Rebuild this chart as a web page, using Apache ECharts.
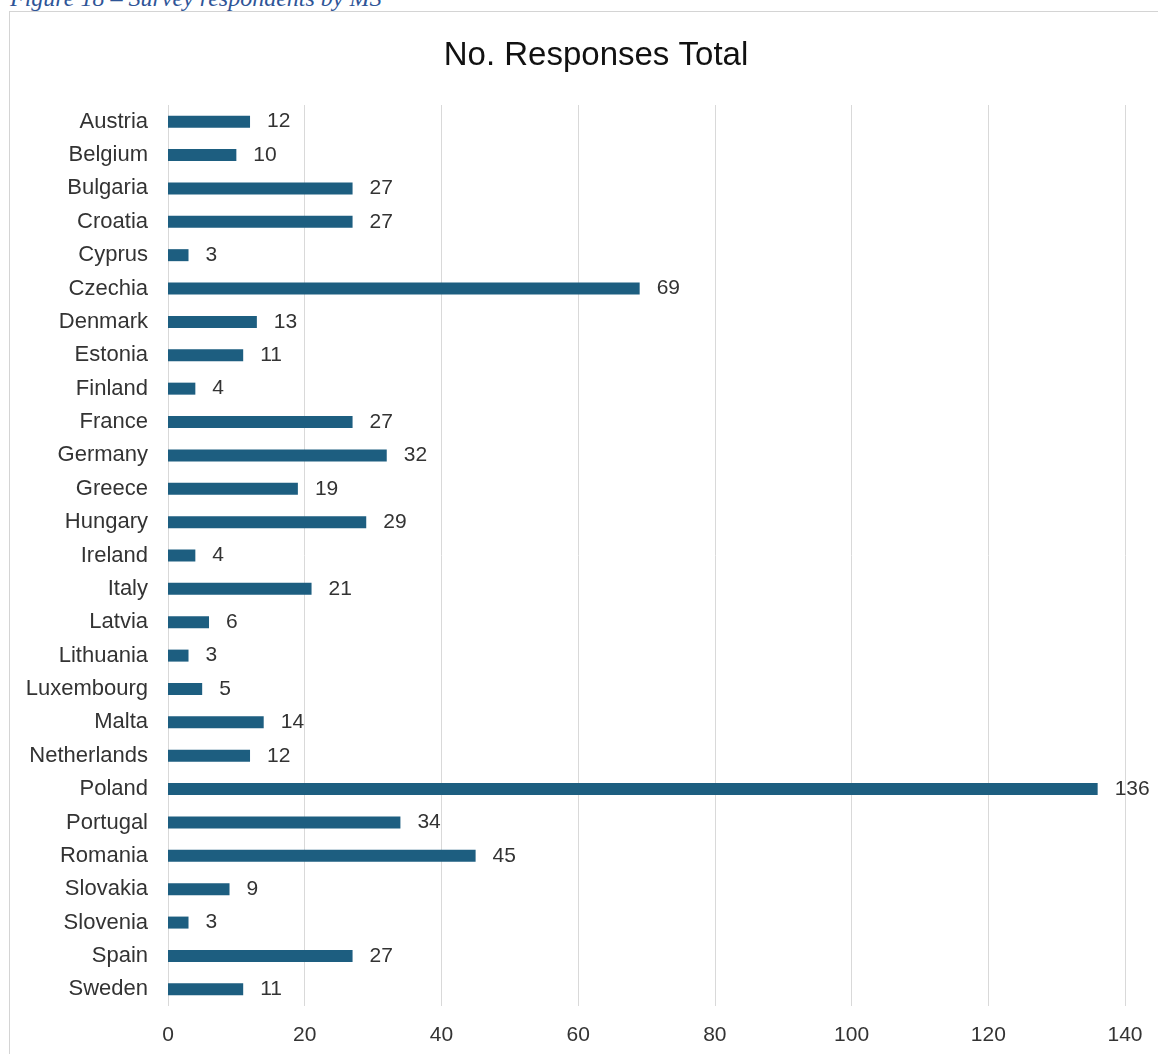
<!DOCTYPE html>
<html>
<head>
<meta charset="utf-8">
<script src="https://cdn.jsdelivr.net/npm/echarts@6/dist/echarts.min.js"></script>
<style>
  html, body { margin: 0; padding: 0; background: #ffffff; overflow: hidden; }
  #caption {
    position: absolute; left: 10px; top: -15px;
    font-family: "Liberation Serif", "DejaVu Serif", serif;
    font-style: italic; font-size: 24px; color: #2f5597; white-space: nowrap;
  }
  #frame {
    position: absolute; left: 9px; top: 11px; width: 1200px; height: 1100px;
    border: 1px solid #d4d4d4; box-sizing: border-box;
  }
  #chart { position: absolute; left: 0; top: 0; width: 1158px; height: 1054px; }
</style>
</head>
<body>
<div id="caption">Figure 18 – Survey respondents by MS</div>
<div id="frame"></div>
<div id="chart"></div>
<script>
const titleText = 'No. Responses Total';
const countries = ['Austria','Belgium','Bulgaria','Croatia','Cyprus','Czechia','Denmark','Estonia','Finland','France','Germany','Greece','Hungary','Ireland','Italy','Latvia','Lithuania','Luxembourg','Malta','Netherlands','Poland','Portugal','Romania','Slovakia','Slovenia','Spain','Sweden'];
const responses = [12,10,27,27,3,69,13,11,4,27,32,19,29,4,21,6,3,5,14,12,136,34,45,9,3,27,11];
const xMin = 0, xMax = 140, xStep = 20;

const chart = echarts.init(document.getElementById('chart'), null, { renderer: 'canvas' });
const FONT = '"Liberation Sans", Arial, sans-serif';
chart.setOption({
  backgroundColor: 'transparent',
  animation: false,
  title: {
    text: titleText,
    left: 591, top: 34,
    textAlign: 'center',
    textStyle: { fontFamily: FONT, fontSize: 33, fontWeight: 'normal', color: '#111111' }
  },
  grid: { left: 168, right: 33, top: 105, bottom: 48, containLabel: false },
  xAxis: {
    type: 'value', min: xMin, max: xMax, interval: xStep,
    axisLine: { show: false }, axisTick: { show: false },
    splitLine: { show: true, lineStyle: { color: '#d9d9d9', width: 1 } },
    axisLabel: { fontFamily: FONT, fontSize: 21, color: '#333333', margin: 19 }
  },
  yAxis: {
    type: 'category', data: countries, inverse: true,
    axisLine: { show: false }, axisTick: { show: false },
    axisLabel: { fontFamily: FONT, fontSize: 22, color: '#333333', margin: 20 }
  },
  series: [{
    type: 'bar', data: responses, barWidth: 12,
    itemStyle: { color: '#1d5e80' },
    label: { show: true, position: 'right', distance: 17, fontFamily: FONT, fontSize: 21, color: '#333333' }
  }]
});
</script>
</body>
</html>
